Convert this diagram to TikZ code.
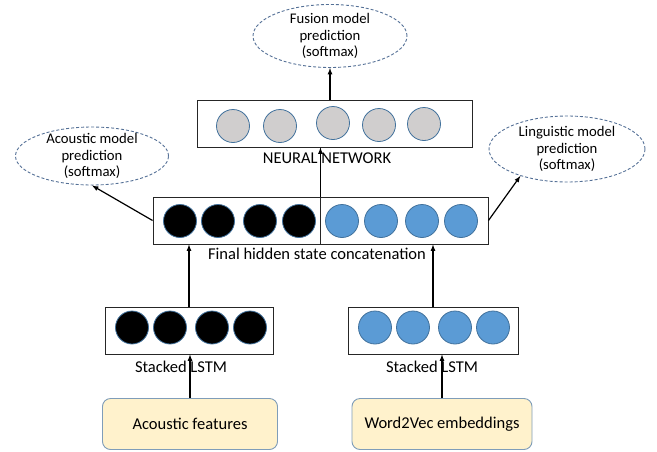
\documentclass[tikz,border=0pt]{standalone}
\usepackage{fontspec}
\setmainfont{Carlito}
\usepackage{tikz}
\usetikzlibrary{shapes,arrows,positioning,calc}
\definecolor{cellblue}{RGB}{91,155,213}
\definecolor{cellgray}{RGB}{208,206,206}
\definecolor{rimblue}{RGB}{65,113,156}
\definecolor{inputfill}{RGB}{255,242,204}
\definecolor{inputrim}{RGB}{127,157,185}
\definecolor{predrim}{RGB}{84,112,150}

\begin{document}
\begin{tikzpicture}[x=1pt,y=-1pt,
    layer/.style={draw=black!85,line width=0.9pt,minimum height=47pt,inner sep=0pt},
    cell/.style={circle,draw=rimblue,line width=0.8pt,minimum size=33pt,inner sep=0pt},
    pred/.style={ellipse,draw=predrim,dash pattern=on 3pt off 2pt,line width=0.9pt,inner xsep=0pt,inner ysep=-3pt,align=center,font=\fontsize{14.7}{16.5}\selectfont},
    feat/.style={rounded corners=8pt,draw=inputrim,fill=inputfill,line width=0.9pt,minimum width=175pt,minimum height=51pt,font=\fontsize{16.5}{19}\selectfont},
    caption/.style={font=\fontsize{16.5}{19}\selectfont,inner sep=0pt},
    arr/.style={-latex,line width=1.2pt}]
    \useasboundingbox (0,0) rectangle (657,451);

    % inputs
    \node[feat] (acfeat) at (190,424) {Acoustic features};
    \node[feat,minimum width=180pt] (wvfeat) at (442,424) {Word2Vec embeddings};

    % stacked LSTM layers
    \node[layer,minimum width=168pt] (lstmA) at (189,330.5) {};
    \node[layer,minimum width=170pt] (lstmB) at (433,330.5) {};
    \foreach \x [count=\i] in {132,170,212,250}
        \node[cell,fill=black] (la\i) at (\x,327.5) {};
    \foreach \x [count=\i] in {375,413,455,493}
        \node[cell,fill=cellblue] (lb\i) at (\x,327.5) {};
    \node[caption] (lstmAcap) at (181,367) {Stacked LSTM};
    \node[caption] (lstmBcap) at (432,367) {Stacked LSTM};

    % concatenated final hidden states
    \node[layer,minimum width=167pt] (catA) at (236.5,220.5) {};
    \node[layer,minimum width=168pt] (catB) at (404,220.5) {};
    \foreach \x [count=\i] in {180,218,260,299}
        \node[cell,fill=black] (ca\i) at (\x,221) {};
    \foreach \x [count=\i] in {342,381,422,461}
        \node[cell,fill=cellblue] (cb\i) at (\x,221) {};
    \node[caption] (catcap) at (317,254) {Final hidden state concatenation};

    % fusion network
    \node[layer,minimum width=275pt] (nnet) at (334.5,123.5) {};
    \foreach \x/\y [count=\i] in {233/126,280/126,333/123,379/125,424/124}
        \node[cell,fill=cellgray] (nn\i) at (\x,\y) {};
    \node[caption] (nncap) at (327,158) {NEURAL NETWORK};

    % softmax outputs
    \node[pred,minimum width=154pt,minimum height=63pt] (fupred) at (330,36) {Fusion model\\prediction\\(softmax)};
    \node[pred,minimum width=153pt,minimum height=58pt] (acpred) at (92,156) {Acoustic model\\prediction\\(softmax)};
    \node[pred,minimum width=156pt,minimum height=66pt] (lipred) at (567,149) {Linguistic model\\prediction\\(softmax)};

    \draw[arr] (acfeat.north) -- (acfeat.north |- lstmA.south);
    \draw[arr] (wvfeat.north) -- (wvfeat.north |- lstmB.south);
    \draw[arr] (lstmA.north) -- (lstmA.north |- catA.south);
    \draw[arr] (lstmB.north) -- (lstmB.north |- catB.south);
    \draw[arr] (catA.north east) -- (catA.north east |- nnet.south);
    \draw[arr] (fupred.south |- nnet.north) -- (fupred.south);
    \draw[arr] (catA.west) -- (acpred.south);
    \draw[arr] (catB.east) -- (lipred.210);
\end{tikzpicture}
\end{document}
